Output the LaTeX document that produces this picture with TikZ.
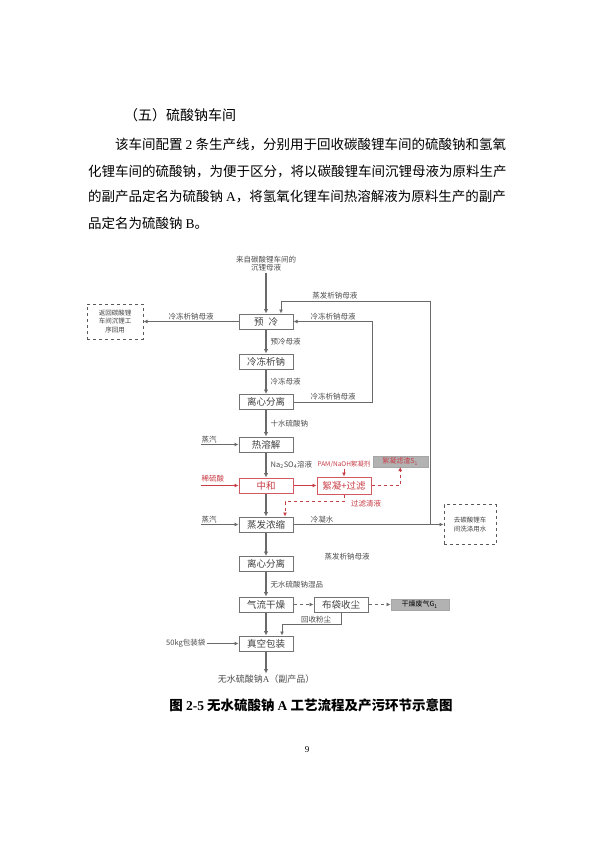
\documentclass[tikz,border=0pt]{standalone}
\usepackage{fontspec}
\setmainfont{Liberation Serif}
\newfontfamily\cjk{Noto Sans CJK SC}
\usepackage{xcolor}
\definecolor{hazard}{HTML}{C83C46}
\definecolor{linegray}{HTML}{6A6A6A}
\usetikzlibrary{
  arrows.meta,
  positioning,
  calc
}

\begin{document}
\begin{tikzpicture}[
  para/.style={anchor=west, inner sep=0pt, font=\cjk\fontsize{13.5}{16}\selectfont},
  box/.style={rectangle, draw=black!55, line width=1pt, fill=white, minimum width=54pt, minimum height=15pt, inner sep=1pt, font=\cjk\fontsize{9.5}{10}\selectfont, text=black!75},
  redbox/.style={box, draw=hazard!85, text=hazard},
  outbox/.style={rectangle, draw=black!65, dashed, line width=1pt, align=center, inner sep=1pt, font=\cjk\fontsize{6.5}{8.5}\selectfont, text=black!75},
  graybox/.style={rectangle, fill=black!30, draw=black!35, minimum height=10.5pt, inner sep=1.5pt, font=\cjk\fontsize{7}{8}\selectfont},
  lbl/.style={inner sep=1pt, font=\cjk\fontsize{7.5}{8.5}\selectfont, text=black!70},
  arr/.style={-{Latex[length=4.5pt,width=4.5pt]}, line width=1.4pt, draw=linegray},
  thinarr/.style={-{Latex[length=4pt,width=4pt]}, line width=0.9pt, draw=linegray},
  redarr/.style={-{Latex[length=4pt,width=4pt]}, line width=0.9pt, draw=hazard},
]
\useasboundingbox (0,0) rectangle (595pt,-842pt);
\fill[white] (0,0) rectangle (595pt,-842pt);

% Section text
\node[anchor=west, inner sep=0pt, font=\cjk\fontsize{14}{16}\selectfont] (title) at (124pt,-115pt) {（五）硫酸钠车间};
\node[para] (p1) at (115pt,-145pt) {该车间配置 {\rmfamily 2} 条生产线，分别用于回收碳酸锂车间的硫酸钠和氢氧};
\node[para] (p2) at (88pt,-172pt) {化锂车间的硫酸钠，为便于区分，将以碳酸锂车间沉锂母液为原料生产};
\node[para] (p3) at (88pt,-197pt) {的副产品定名为硫酸钠 {\rmfamily A}，将氢氧化锂车间热溶解液为原料生产的副产};
\node[para] (p4) at (88pt,-223pt) {品定名为硫酸钠 {\rmfamily B}。};

% Main column
\node[box] (yuleng) at (266pt,-321.5pt) {预\hspace{5pt}冷};
\node[lbl, align=center, above=41pt of yuleng] (src) {来自碳酸锂车间的\\沉锂母液};
\node[box, below=24pt of yuleng] (lengdong) {冷冻析钠};
\node[box, below=24.5pt of lengdong] (lixin) {离心分离};
\node[box, below=26.5pt of lixin] (rerong) {热溶解};
\node[redbox, below=25pt of rerong] (zhonghe) {中和};
\node[box, below=23pt of zhonghe] (zhengfa) {蒸发浓缩};
\node[box, below=23.5pt of zhengfa] (lixinb) {离心分离};
\node[box, below=24.5pt of lixinb] (ganzao) {气流干燥};
\node[box, below=23pt of ganzao] (baozhuang) {真空包装};
\node[lbl, below=22pt of baozhuang, font=\cjk\fontsize{9}{10}\selectfont] (product) {无水硫酸钠{\rmfamily A}（副产品）};

% Outlets
\node[outbox, left=95pt of yuleng, minimum width=56pt, minimum height=35pt] (fanhui) {返回碳酸锂\\车间沉锂工\\序回用};
\node[outbox, right=150pt of zhengfa, minimum width=52pt, minimum height=40pt] (huiyong) {去碳酸锂车\\间洗涤用水};

% Neutralisation branch
\node[redbox, right=23pt of zhonghe, minimum height=17pt] (chuza) {絮凝+过滤};
\node[lbl, text=hazard, above=8pt of chuza, font=\cjk\fontsize{6.5}{7.5}\selectfont] (agent) {PAM/NaOH絮凝剂};
\node[graybox, text=hazard, minimum width=55pt, above right=9.5pt and 1pt of chuza] (slag) {絮凝滤渣S\textsubscript{1}};
\node[lbl, text=hazard, anchor=west] (clear) at ([xshift=6pt,yshift=-9pt]chuza.south) {过滤清液};

% Drying branch
\node[box, right=20pt of ganzao] (dust) {布袋收尘};
\node[graybox, right=22pt of dust, minimum width=58pt] (gas) {干燥废气G\textsubscript{1}};

% Side inputs
\coordinate[left=38pt of rerong.west] (steamA);
\node[lbl, anchor=south west] (steamAl) at (steamA) {蒸汽};
\coordinate[left=38pt of zhonghe.west] (acidin);
\node[lbl, text=hazard, anchor=south west] (acid) at ([yshift=2pt]acidin) {稀硫酸};
\coordinate[left=38pt of zhengfa.west] (steamB);
\node[lbl, anchor=south west] (steamBl) at (steamB) {蒸汽};
\node[lbl, left=32pt of baozhuang] (bag) {50kg包装袋};
\coordinate[left=13pt of huiyong.west] (jn);
\node[lbl, anchor=west] (mother) at ([xshift=30pt,yshift=7pt]lixinb.east) {蒸发析钠母液};

% Main flow
\draw[arr] (src) -- (yuleng);
\draw[arr] (yuleng) -- node[lbl, right=3pt] (la) {预冷母液} (lengdong);
\draw[arr] (lengdong) -- node[lbl, right=3pt] (lb) {冷冻母液} (lixin);
\draw[arr] (lixin) -- node[lbl, right=3pt] (lc) {十水硫酸钠} (rerong);
\draw[arr] (rerong) -- node[lbl, right=3pt] (ld) {Na\textsubscript{2}SO\textsubscript{4}溶液} (zhonghe);
\draw[arr] (zhonghe) -- (zhengfa);
\draw[arr] (zhengfa) -- (lixinb);
\draw[arr] (lixinb) -- node[lbl, right=3pt] (le) {无水硫酸钠湿品} (ganzao);
\draw[arr] (ganzao) -- (baozhuang);
\draw[arr] (baozhuang) -- (product);

% Returns and outlets
\draw[thinarr] (yuleng.west) -- node[lbl, above] (lf) {冷冻析钠母液} (fanhui.east);
\draw[thinarr] (lixin.east) -- node[lbl, above] (lg) {冷冻析钠母液} ++(79pt,0) |- node[lbl, above, pos=0.75] (lh) {冷冻析钠母液} (yuleng.east);
\draw[thinarr] (zhengfa.east) -- node[lbl, above, pos=0.19] (li) {冷凝水} (huiyong.west);
\draw[thinarr] (jn) -- ++(0,223.5pt) -| node[lbl, above, pos=0.32] (lj) {蒸发析钠母液} ([xshift=15pt]yuleng.north);
\draw[thinarr] (steamA) -- (rerong.west);
\draw[thinarr] (steamB) -- (zhengfa.west);
\draw[thinarr] (bag) -- (baozhuang);

% Red branch
\draw[redarr] (acidin) -- (zhonghe.west);
\draw[redarr] (zhonghe) -- (chuza);
\draw[redarr] (agent) -- (chuza);
\draw[redarr, dashed] (chuza.east) -| (slag.south);
\draw[redarr, dashed] (chuza.south) -- ++(0,-7pt) -| ([xshift=19pt]zhengfa.north);

% Dust
\draw[thinarr, dashed] (ganzao) -- (dust);
\draw[thinarr, dashed] (dust) -- (gas);
\draw[thinarr] (dust.south) -- ++(0,-12pt) -| node[lbl, above, pos=0.21] (lk) {回收粉尘} ([xshift=16pt]baozhuang.north);

% Caption
\node[inner sep=0pt, font=\cjk\bfseries\fontsize{13.5}{15}\selectfont] (caption) at (311pt,-705pt) {图 {\rmfamily 2-5} 无水硫酸钠 {\rmfamily A} 工艺流程及产污环节示意图};
\node[inner sep=0pt, font=\rmfamily\fontsize{9}{10}\selectfont] (pageno) at (307pt,-750pt) {9};
\end{tikzpicture}
\end{document}
